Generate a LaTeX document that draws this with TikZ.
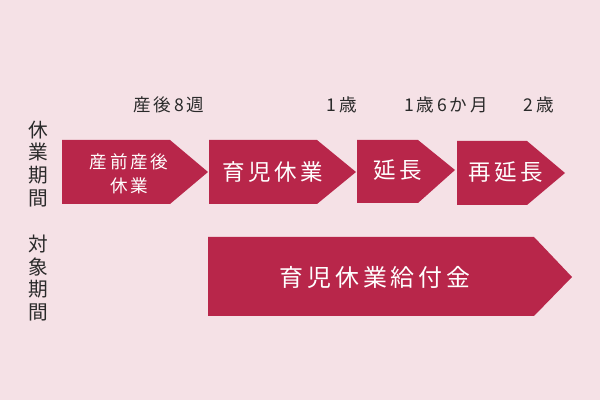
\documentclass[tikz,border=0pt]{standalone}
\usepackage{fontspec}
\newfontfamily\jp{Noto Sans CJK JP}
\newfontfamily\jpwide[LetterSpace=16]{Noto Sans CJK JP}
\usetikzlibrary{positioning}
\definecolor{bgpink}{HTML}{F5E1E6}
\definecolor{barred}{HTML}{B8264A}
\definecolor{inkgray}{HTML}{2A2A2A}

\begin{document}
\begin{tikzpicture}[x=0.025cm, y=-0.025cm, every node/.style={font=\jp}]
  \tikzset{band/.style={fill=barred, draw=none},
           intext/.style={text=white, align=center, inner sep=0pt, font=\jpwide\fontsize{16}{19}\selectfont},
           agelabel/.style={text=inkgray, font=\jpwide\fontsize{12.5}{14}\selectfont, inner sep=0pt},
           side/.style={text=inkgray, align=center, inner sep=0pt, font=\jp\fontsize{14}{16.3}\selectfont}}
  \fill[bgpink] (0,0) rectangle (600,400);
  \useasboundingbox (0,0) rectangle (600,400);

  % leave periods
  \fill[band] (62,140) -- (170,140) -- (208,172) -- (170,204) -- (62,204) -- cycle;
  \fill[band] (209,140) -- (317,140) -- (356,172) -- (317,204) -- (209,204) -- cycle;
  \fill[band] (357,140) -- (418,140) -- (455,170) -- (418,203) -- (357,203) -- cycle;
  \fill[band] (457,141) -- (527,141) -- (565,173) -- (527,205) -- (457,205) -- cycle;
  % benefit period
  \fill[band] (208,237) -- (534,237) -- (572,277) -- (534,316) -- (208,316) -- cycle;

  \node[intext, font=\jpwide\fontsize{12.5}{17}\selectfont] (maternity) at (129,174) {産前産後\\休業};
  \node[intext] (childcare) at (273,172) {育児休業};
  \node[intext] (extend) at (398,170) {延長};
  \node[intext] (reextend) at (506,172) {再延長};
  \node[intext, font=\jpwide\fontsize{17}{19}\selectfont] (benefit) at (375,277) {育児休業給付金};

  \node[agelabel] (week8) at (169,105) {産後8週};
  \node[agelabel] (age1) at (342,105) {1歳};
  \node[agelabel] (age1h) at (446,105) {1歳6か月};
  \node[agelabel] (age2) at (539,105) {2歳};

  \node[side] (leave) at (38,164) {休\\業\\期\\間};
  \node[side] (target) at (38,278) {対\\象\\期\\間};
\end{tikzpicture}
\end{document}
